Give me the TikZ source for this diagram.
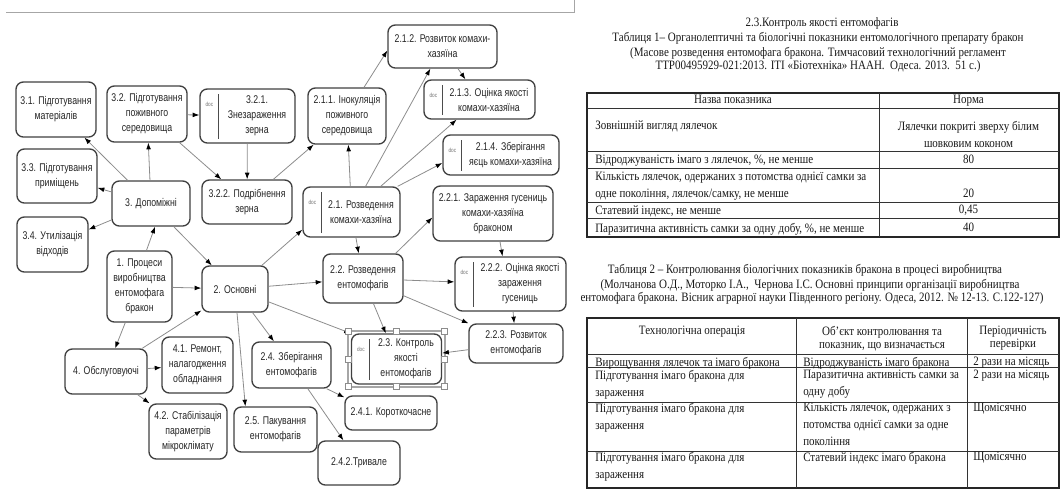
\documentclass[tikz,border=0pt]{standalone}
\usepackage{fontspec}
\setmainfont{Liberation Serif}
\newfontfamily\boxfont[FakeStretch=0.78]{Liberation Sans}
\newfontfamily\tabfont[FakeStretch=0.86]{Liberation Serif}
\usetikzlibrary{arrows.meta,calc}
\tikzset{procbox/.style={rectangle,rounded corners=5.5pt,draw=black!75,fill=white,line width=1pt,inner sep=1pt,align=center,text=black!85,font=\boxfont\fontsize{8.4}{11.25}\selectfont}}
\tikzset{boxtext/.style={inner sep=0pt,align=center,text=black!85,font=\boxfont\fontsize{8.4}{11.25}\selectfont}}
\tikzset{doctag/.style={inner sep=0pt,text=black!55,font=\boxfont\fontsize{4.5}{5}\selectfont}}
\tikzset{docline/.style={draw=black!70,line width=0.9pt}}
\tikzset{conn/.style={draw=black!45,line width=0.6pt,-{Latex[length=5pt,width=3.6pt,color=black]}}}
\tikzset{selframe/.style={draw=black!35,line width=2.2pt}}
\tikzset{handle/.style={rectangle,draw=black!45,fill=white,line width=0.4pt,minimum size=4.5pt,inner sep=0pt}}
\tikzset{tabtext/.style={inner sep=0pt,text=black!90,font=\tabfont\fontsize{9.6}{12.75}\selectfont}}
\tikzset{headtext/.style={tabtext,font=\tabfont\fontsize{9.6}{9.75}\selectfont}}
\tikzset{tabline/.style={draw=black!80,line width=0.6pt}}
\tikzset{tabframe/.style={draw=black!85,line width=1.1pt}}
% box with a "doc" tag and a divider
\newcommand{\docbox}[5]{%
  \node (#1) [procbox,minimum width=#3,minimum height=#4] at (#2) {};
  \draw [docline] ($(#1.north west)+(19,6)$) -- ($(#1.south west)+(19,-5)$);
  \node (#1tag) [doctag] at ($(#1.north west)+(10,16)$) {doc};
  \node (#1txt) [boxtext] at ($(#1.west)!0.5!(#1.east)+(9.5,0)$) {#5};
}
\begin{document}
\begin{tikzpicture}[x=0.75pt,y=-0.75pt]
\useasboundingbox (0,0) rectangle (1064,490);
\draw [black!35] (6,12.5) -- (574,12.5) -- (574,0);

% auxiliary processes
\node (n31) [procbox,minimum width=60pt,minimum height=41.25pt] at (56,109.5) {3.1. Підготування\\матеріалів};
\node (n32) [procbox,minimum width=60pt,minimum height=42pt] at (147,114) {3.2. Підготування\\поживного\\середовища};
\docbox{n321}{247.5,116}{71.25pt}{40.5pt}{3.2.1.\\Знезараження\\зерна}
\node (n33) [procbox,minimum width=60pt,minimum height=40.5pt] at (57,176) {3.3. Підготування\\приміщень};
\node (n3) [procbox,minimum width=58.5pt,minimum height=33.75pt] at (151,203.5) {3. Допоміжні};
\node (n322) [procbox,minimum width=67.5pt,minimum height=33pt] at (247,202) {3.2.2. Подрібнення\\зерна};
\node (n34) [procbox,minimum width=53.25pt,minimum height=41.25pt] at (52.5,244.5) {3.4. Утилізація\\відходів};

% root and service processes
\node (n1) [procbox,minimum width=48.75pt,minimum height=53.25pt] at (139.5,286.5) {1. Процеси\\виробництва\\ентомофага\\бракон};
\node (n2) [procbox,minimum width=49.5pt,minimum height=34.5pt] at (235,289) {2. Основні};
\node (n4) [procbox,minimum width=61.5pt,minimum height=33.75pt] at (106,371.5) {4. Обслуговуючі};
\node (n41) [procbox,minimum width=53.25pt,minimum height=42pt] at (197.5,365) {4.1. Ремонт,\\налагодження\\обладнання};
\node (n42) [procbox,minimum width=58.5pt,minimum height=41.25pt] at (188,431.5) {4.2. Стабілізація\\параметрів\\мікроклімату};

% main processes
\node (n25) [procbox,minimum width=62.25pt,minimum height=33.75pt] at (275.5,429.5) {2.5. Пакування\\ентомофагів};
\node (n24) [procbox,minimum width=59.25pt,minimum height=34.5pt] at (291.5,365) {2.4. Зберігання\\ентомофагів};
\node (n241) [procbox,minimum width=69pt,minimum height=25.5pt] at (391,413) {2.4.1. Короткочасне};
\node (n242) [procbox,minimum width=61.5pt,minimum height=33pt] at (359,463) {2.4.2.Тривале};
\docbox{n23}{396.5,359}{67.5pt}{37.5pt}{2.3. Контроль\\якості\\ентомофагів}
\node (n22) [procbox,minimum width=60pt,minimum height=36.75pt] at (363,278.5) {2.2. Розведення\\ентомофагів};
\docbox{n222}{510.5,284}{83.25pt}{40.5pt}{2.2.2. Оцінка якості\\зараження\\гусениць}
\node (n223) [procbox,minimum width=70.5pt,minimum height=29.25pt] at (516,343.5) {2.2.3. Розвиток\\ентомофагів};
\node (n221) [procbox,minimum width=90pt,minimum height=41.25pt] at (493,213.5) {2.2.1. Зараження гусениць\\комахи-хазяїна\\браконом};
\docbox{n214}{501,155}{87pt}{30pt}{2.1.4. Зберігання\\яєць комахи-хазяїна}
\docbox{n213}{479.5,99.5}{83.25pt}{29.25pt}{2.1.3. Оцінка якості\\комахи-хазяїна}
\node (n212) [procbox,minimum width=81.75pt,minimum height=32.25pt] at (442.5,46.5) {2.1.2. Розвиток комахи-\\хазяїна};
\node (n211) [procbox,minimum width=58.5pt,minimum height=42pt] at (347,116) {2.1.1. Інокуляція\\поживного\\середовища};
\docbox{n21}{351.5,212}{72.75pt}{37.5pt}{2.1. Розведення\\комахи-хазяїна}

% selection of 2.3
\draw [selframe] (348,331) rectangle (445,387);

% connectors
\draw [conn] (n3) -- (n31);
\draw [conn] (n3) -- (n32);
\draw [conn] (n3) -- (n33);
\draw [conn] (n3) -- (n34);
\draw [conn] (n32) -- (n321);
\draw [conn] (n32) -- (n322);
\draw [conn] (n321) -- (n322);
\draw [conn] (n322) -- (n211);
\draw [conn] (n3) -- (n2);
\draw [conn] ($(n1.north)+(7,0)$) -- ($(n3.south)+(4,0)$);
\draw [conn] (n1) -- (n2);
\draw [conn] (n1) -- (n4);
\draw [conn] (n4) -- (n2);
\draw [conn] (n4) -- (n41);
\draw [conn] (n4) -- (n42);
\draw [conn] ($(n2.south)+(2,0)$) -- ($(n25.north west)+(12,0)$);
\draw [conn] (n2) -- (n24);
\draw [conn] (n2) -- (n23.north west);
\draw [conn] (n2) -- (n22);
\draw [conn] (n2) -- ($(n21.south west)+(0,-8)$);
\draw [conn] (n21) -- (n211);
\draw [conn] (n21) -- (n212);
\draw [conn] ($(n211.north)+(17,0)$) -- ($(n212.west)+(0,4)$);
\draw [conn] (n21) -- (n213);
\draw [conn] ($(n21.north east)+(-3,0)$) -- ($(n214.west)+(0,8)$);
\draw [conn] (n212) -- (n213);
\draw [conn] (n21) -- (n22);
\draw [conn] ($(n22.north east)+(-8,0)$) -- ($(n221.west)+(0,4)$);
\draw [conn] ($(n221.south)+(7,0)$) -- ($(n222.north)+(-8,0)$);
\draw [conn] (n22) -- (n222);
\draw [conn] (n22) -- (n223);
\draw [conn] (n222) -- (n223);
\draw [conn] (n223) -- (n23);
\draw [conn] (n22) -- (n23);
\draw [conn] ($(n24.south east)+(-5,0)$) -- ($(n241.north west)+(0,2)$);
\draw [conn] (n24) -- (n242);

\foreach \hx/\hy [count=\i] in {348/331,396.5/331,444.5/331,348/359,444.5/359,348/386,396.5/386,444.5/386}
  \node (hdl\i) [handle] at (\hx,\hy) {};

% table 1
\node (t1a) [tabtext,anchor=north] at (822,17) {2.3.Контроль якості ентомофагів};
\node (t1b) [tabtext,anchor=north] at (818,32.5) {Таблиця 1– Органолептичні та біологічні показники ентомологічного препарату бракон};
\node (t1c) [tabtext,anchor=north] at (818,47) {(Масове розведення ентомофага бракона. Тимчасовий технологічний регламент};
\node (t1d) [tabtext,anchor=north] at (818,60) {ТТР00495929-021:2013. ІТІ «Біотехніка» НААН.\ \ Одеса. 2013.\ \ 51 с.)};
\draw [tabframe] (587,93) rectangle (1059,237);
\foreach \ry in {108,151,168,202,218} \draw [tabline] (587,\ry) -- (1059,\ry);
\draw [tabline] (879,93) -- (879,237);
\node (c11) [tabtext,anchor=north] at (733,95) {Назва показника};
\node (c12) [tabtext,anchor=north] at (968.5,95) {Норма};
\node (c21) [tabtext,anchor=north west] at (595,120) {Зовнішній вигляд лялечок};
\node (c22) [tabtext,anchor=north,align=center] at (968.5,121) {Лялечки покриті зверху білим\\шовковим коконом};
\node (c31) [tabtext,anchor=north west] at (595,155) {Відроджуваність імаго з лялечок, \%, не менше};
\node (c32) [tabtext,anchor=north] at (968.5,155) {80};
\node (c41) [tabtext,anchor=north west,align=left] at (595,172) {Кількість лялечок, одержаних з потомства однієї самки за\\одне покоління, лялечок/самку, не менше};
\node (c42) [tabtext,anchor=north] at (968.5,189) {20};
\node (c51) [tabtext,anchor=north west] at (595,205) {Статевий індекс, не менше};
\node (c52) [tabtext,anchor=north] at (968.5,205) {0,45};
\node (c61) [tabtext,anchor=north west] at (595,223) {Паразитична активність самки за одну добу, \%, не менше};
\node (c62) [tabtext,anchor=north] at (968.5,223) {40};

% table 2
\node (t2a) [tabtext,anchor=north] at (805,264) {Таблиця 2 – Контролювання біологічних показників бракона в процесі виробництва};
\node (t2b) [tabtext,anchor=north] at (810,279) {(Молчанова О.Д., Моторко І.А.,\ \ Чернова І.С. Основні принципи організації виробництва};
\node (t2c) [tabtext,anchor=north] at (812,292) {ентомофага бракона. Вісник аграрної науки Південного регіону. Одеса, 2012. № 12-13. С.122-127)};
\draw [tabframe] (587,318) rectangle (1059,488);
\foreach \ry in {354,367,402,451} \draw [tabline] (587,\ry) -- (1059,\ry);
\draw [tabline] (796,318) -- (796,488);
\draw [tabline] (967,318) -- (967,488);
\node (d11) [headtext,anchor=north] at (692,326) {Технологічна операція};
\node (d12) [headtext,anchor=north,align=center] at (882,326) {Об’єкт контролювання та\\показник, що визначається};
\node (d13) [headtext,anchor=north,align=center] at (1013,326) {Періодичність\\перевірки};
\node (d21) [tabtext,anchor=north west] at (595,357) {Вирощування лялечок та імаго бракона};
\node (d22) [tabtext,anchor=north west] at (803,357) {Відроджуваність імаго бракона};
\node (d23) [tabtext,anchor=north west] at (973,357) {2 рази на місяць};
\node (d31) [tabtext,anchor=north west,align=left] at (595,370) {Підготування імаго бракона для\\зараження};
\node (d32) [tabtext,anchor=north west,align=left] at (803,370) {Паразитична активність самки за\\одну добу};
\node (d33) [tabtext,anchor=north west] at (973,370) {2 рази на місяць};
\node (d41) [tabtext,anchor=north west,align=left] at (595,403) {Підготування імаго бракона для\\зараження};
\node (d42) [tabtext,anchor=north west,align=left] at (803,403) {Кількість лялечок, одержаних з\\потомства однієї самки за одне\\покоління};
\node (d43) [tabtext,anchor=north west] at (973,403) {Щомісячно};
\node (d51) [tabtext,anchor=north west,align=left] at (595,452) {Підготування імаго бракона для\\зараження};
\node (d52) [tabtext,anchor=north west] at (803,452) {Статевий індекс імаго бракона};
\node (d53) [tabtext,anchor=north west] at (973,452) {Щомісячно};
\end{tikzpicture}
\end{document}
